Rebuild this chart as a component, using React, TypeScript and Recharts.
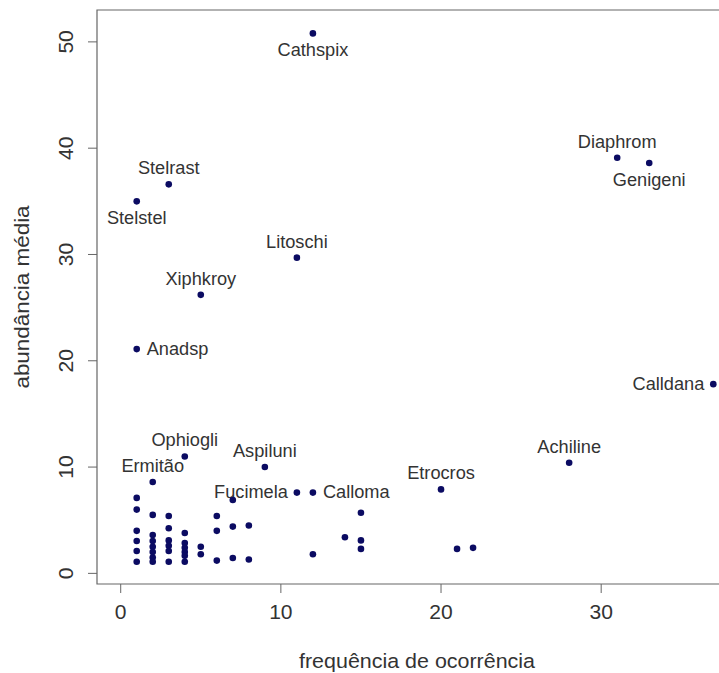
import React from "react";
import { ScatterChart, Scatter, XAxis, YAxis, ReferenceArea } from "recharts";

// Species labels ("" = unlabelled point)
const species = [
  "Cathspix", "Diaphrom", "Genigeni", "Stelrast", "Stelstel", "Litoschi", "Xiphkroy",
  "Anadsp", "Calldana", "Achiline", "Etrocros", "Ophiogli", "Ermitão", "Aspiluni",
  "Fucimela", "Calloma",
  "", "", "", "", "", "",
  "", "", "", "", "", "", "",
  "", "", "", "", "", "",
  "", "", "", "", "", "",
  "", "",
  "", "", "",
  "", "", "",
  "", "",
  "",
  "",
  "", "", "",
  "", "",
];
// frequência de ocorrência
const freq = [
  12, 31, 33, 3, 1, 11, 5,
  1, 37, 28, 20, 4, 2, 9,
  11, 12,
  1, 1, 1, 1, 1, 1,
  2, 2, 2, 2, 2, 2, 2,
  3, 3, 3, 3, 3, 3,
  4, 4, 4, 4, 4, 4,
  5, 5,
  6, 6, 6,
  7, 7, 7,
  8, 8,
  12,
  14,
  15, 15, 15,
  21, 22,
];
// abundância média
const abund = [
  50.8, 39.1, 38.6, 36.6, 35.0, 29.7, 26.2,
  21.1, 17.8, 10.4, 7.9, 11.0, 8.6, 10.0,
  7.6, 7.6,
  7.1, 6.0, 4.0, 3.05, 2.1, 1.1,
  5.5, 3.6, 3.05, 2.5, 2.0, 1.5, 1.1,
  5.4, 4.25, 3.1, 2.6, 2.1, 1.1,
  3.8, 2.85, 2.4, 2.0, 1.65, 1.1,
  2.5, 1.8,
  5.4, 4.0, 1.2,
  6.9, 4.4, 1.45,
  4.5, 1.3,
  1.8,
  3.4,
  5.7, 3.1, 2.3,
  2.3, 2.4,
];
// label placement relative to point
const labelPos = [
  "below", "above", "below", "above", "below", "above", "above",
  "right", "left", "above", "above", "above", "above", "above",
  "left", "right",
];

const xTicks = [0, 10, 20, 30];
const yTicks = [0, 10, 20, 30, 40, 50];

const data = freq.map((f, i) => ({
  x: f,
  y: abund[i],
  name: species[i] || "",
  pos: labelPos[i] || "none",
}));

const FONT = "'Liberation Sans', Arial, Helvetica, sans-serif";
const DOT = "#0b0b62";
const TXT = "#333333";
const LINE = "#666666";

function Txt({ x, y, text, size, sx = 1, rot = 0, anchor = "middle", fill = TXT }: any) {
  return (
    <g transform={`translate(${x},${y}) rotate(${rot}) scale(${sx},1)`}>
      <text
        x={0}
        y={0}
        textAnchor={anchor}
        dominantBaseline="central"
        fontFamily={FONT}
        fontSize={size}
        fill={fill}
      >
        {text}
      </text>
    </g>
  );
}

function PointShape(props: any) {
  const { cx, cy, payload } = props;
  if (cx == null || cy == null) return null;
  let label = null;
  if (payload.name) {
    const p = payload.pos;
    if (p === "above") label = <Txt x={cx} y={cy - 16} text={payload.name} size={17.5} sx={1.04} />;
    else if (p === "below") label = <Txt x={cx} y={cy + 17} text={payload.name} size={17.5} sx={1.04} />;
    else if (p === "left") label = <Txt x={cx - 9} y={cy} text={payload.name} size={17.5} sx={1.04} anchor="end" />;
    else if (p === "right") label = <Txt x={cx + 10} y={cy} text={payload.name} size={17.5} sx={1.04} anchor="start" />;
  }
  return (
    <g>
      <circle cx={cx} cy={cy} r={3.3} fill={DOT} />
      {label}
    </g>
  );
}

function XTick(props: any) {
  const { x, payload } = props;
  return <Txt x={x} y={612} text={String(payload.value)} size={19.5} sx={1.08} />;
}

function YTick(props: any) {
  const { y, payload } = props;
  return <Txt x={66} y={y} text={String(payload.value)} size={19.5} sx={1.08} rot={-90} />;
}

export default function App() {
  return (
    <div
      style={{
        position: "fixed",
        left: 0,
        top: 0,
        width: 719,
        height: 673,
        overflow: "hidden",
        background: "#ffffff",
      }}
    >
      <ScatterChart width={760} height={673} margin={{ top: 10, right: 23, bottom: 0, left: 0 }}>
        <XAxis
          type="number"
          dataKey="x"
          domain={[-1.48, 38.48]}
          ticks={xTicks}
          allowDataOverflow
          height={89}
          axisLine={false}
          tickLine={{ stroke: LINE, strokeWidth: 1 }}
          tickSize={9}
          tick={<XTick />}
        />
        <YAxis
          type="number"
          dataKey="y"
          domain={[-1, 53]}
          ticks={yTicks}
          allowDataOverflow
          width={97}
          axisLine={false}
          tickLine={{ stroke: LINE, strokeWidth: 1 }}
          tickSize={9}
          tick={<YTick />}
        />
        <ReferenceArea
          x1={-1.48}
          x2={38.48}
          y1={-1}
          y2={53}
          fill="none"
          fillOpacity={0}
          stroke={LINE}
          strokeWidth={1.2}
          ifOverflow="visible"
        />
        <Scatter data={data} isAnimationActive={false} shape={<PointShape />} />
      </ScatterChart>
      <div style={{ position: "absolute", left: 0, top: 0, pointerEvents: "none" }}>
        <svg width={719} height={673}>
          <Txt x={417} y={661} text="frequência de ocorrência" size={19.5} sx={1.1} />
          <Txt x={22} y={297} text="abundância média" size={19.5} sx={1.15} rot={-90} />
        </svg>
      </div>
    </div>
  );
}
